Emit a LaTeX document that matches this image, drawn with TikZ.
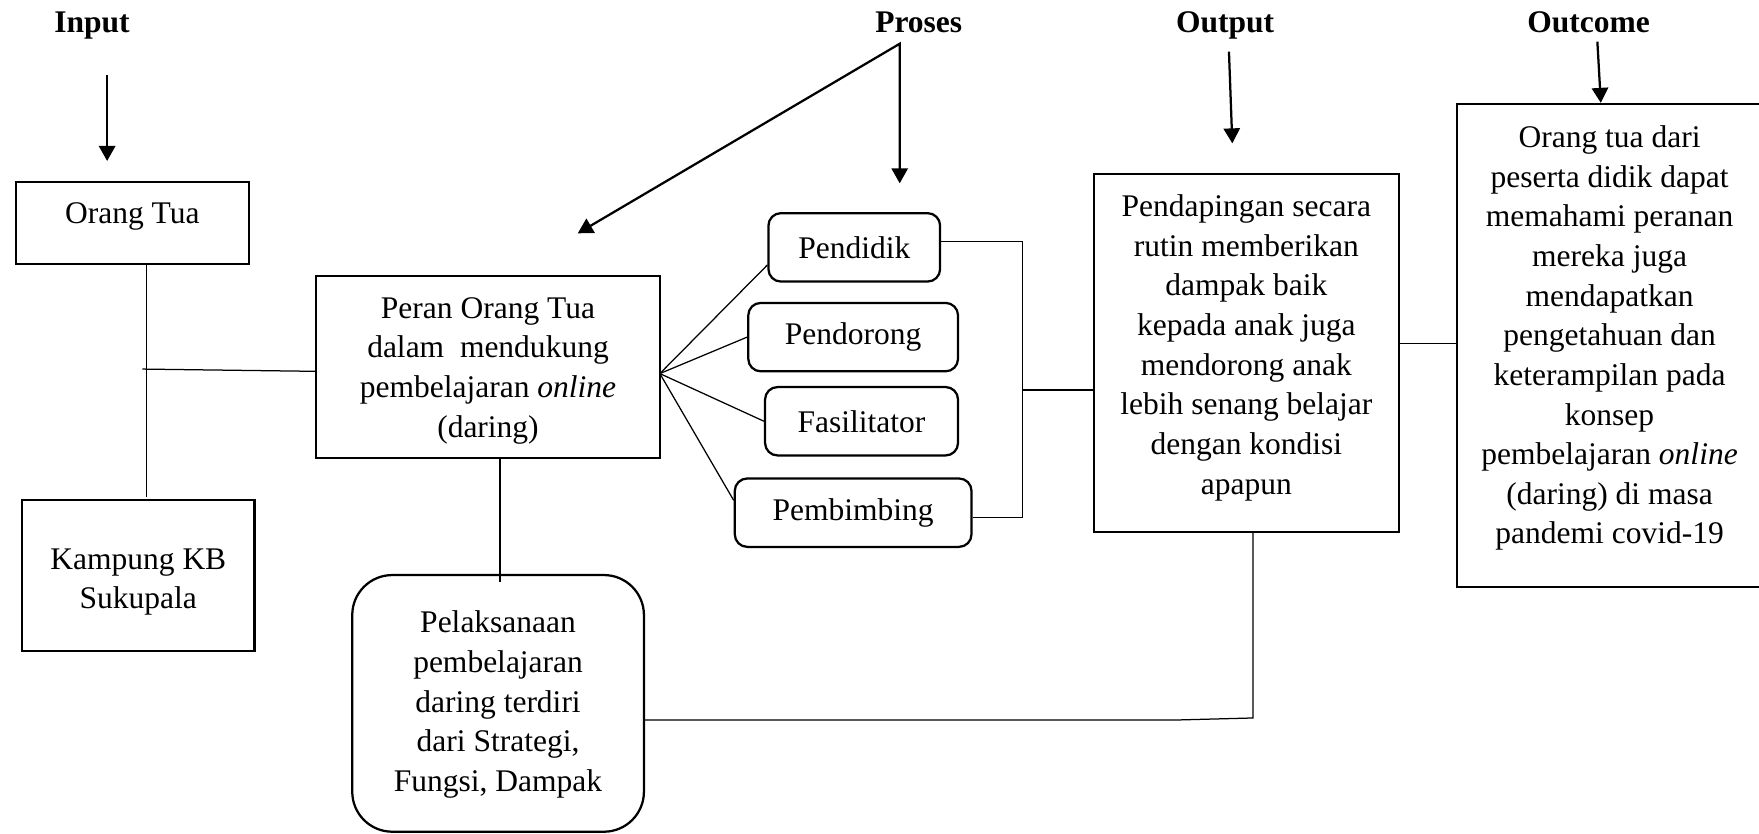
\documentclass[tikz,border=0pt]{standalone}
\usepackage{fontspec}
\setmainfont{Liberation Serif}
\usetikzlibrary{arrows.meta,calc}
\begin{document}
\begin{tikzpicture}[x=0.4487pt,y=-0.4487pt,
  every node/.style={font=\fontsize{12.6}{15.85}\selectfont},
  box/.style={draw, line width=0.9pt, inner sep=0pt},
  rbox/.style={box, rounded corners=5pt},
  txt/.style={align=center, inner sep=0pt, anchor=north},
  head/.style={font=\fontsize{12.6}{15.85}\selectfont\bfseries, inner sep=0pt, anchor=base},
  link/.style={line width=0.5pt},
  arr/.style={line width=0.9pt, -{Triangle[length=6pt,width=6.5pt]}}
]
\useasboundingbox (0,0) rectangle (1568,743);

% headings
\node[head] (hin) at (82,29) {Input};
\node[head] (hpr) at (819,29) {Proses};
\node[head] (hout) at (1092,29) {Output};
\node[head] (hoc) at (1416,29) {Outcome};

% boxes
\node[box, minimum width=93.06pt, minimum height=33.02pt] (ot) at (118,198.8) {};
\node[anchor=base, inner sep=0pt] (tot) at (118,199.3) {Orang Tua};

\node[box, minimum width=92.84pt, minimum height=60.13pt] (kb) at (123.35,513) {};
\node[txt] (tkb) at (123.3,482.2) {\strut Kampung KB\\Sukupala};

\node[box, minimum width=137.53pt, minimum height=72.69pt] (peran) at (434.95,327) {};
\node[txt] (tperan) at (435,258.5) {\strut Peran Orang Tua\\dalam\ \ mendukung\\pembelajaran \textit{online}\\(daring)};

\node[box, rounded corners=16pt, minimum width=116.66pt, minimum height=102.66pt] (pel) at (444,627) {};
\node[txt] (tpel) at (444,539) {\strut Pelaksanaan\\pembelajaran\\daring terdiri\\dari Strategi,\\Fungsi, Dampak};

\node[rbox, minimum width=68.65pt, minimum height=27.37pt] (pd) at (761.5,220.5) {Pendidik};
\node[rbox, minimum width=83.9pt, minimum height=27.37pt] (pn) at (760.5,300.5) {Pendorong};
\node[rbox, minimum width=77.18pt, minimum height=27.37pt] (fs) at (768,375.5) {Fasilitator};
\node[rbox, minimum width=94.68pt, minimum height=27.37pt] (pb) at (760.5,457) {Pembimbing};

\node[box, minimum width=121.91pt, minimum height=142.96pt] (out) at (1111.15,314.7) {};
\node[txt] (tout) at (1111,168) {\strut Pendapingan secara\\rutin memberikan\\dampak baik\\kepada anak juga\\mendorong anak\\lebih senang belajar\\dengan kondisi\\apapun};

\node[box, minimum width=130.57pt, minimum height=193.07pt] (oc) at (1444.5,307.85) {};
\node[txt] (toc) at (1434.8,106.4) {\strut Orang tua dari\\peserta didik dapat\\memahami peranan\\mereka juga\\mendapatkan\\pengetahuan dan\\keterampilan pada\\konsep\\pembelajaran \textit{online}\\(daring) di masa\\pandemi covid-19};

% arrows
\coordinate (ina1) at (95.5,67);
\coordinate (ina2) at (95.5,143.5);
\draw[arr] (ina1) -- (ina2);

\coordinate (apex) at (802,39);
\coordinate (pv) at (802,163.4);
\coordinate (pdg) at (515,208);
\draw[line width=0.9pt, line join=miter, {Triangle[length=6pt,width=6.5pt]}-{Triangle[length=6pt,width=6.5pt]}] (pdg) -- (apex) -- (pv);

\coordinate (oa1) at (1095.5,46);
\coordinate (oa2) at (1098.5,127.8);
\draw[arr] (oa1) -- (oa2);

\coordinate (oca1) at (1423.9,37.1);
\draw[arr] (oca1) -- (oc.north -| 1427,0);

% connectors
\coordinate (v1) at (130.5,443);
\draw[link] (ot.south -| v1) -- (v1);
\coordinate (h1) at (127,329);
\draw[link] (h1) -- (peran.west |- 0,331);

\coordinate (v2) at (445.7,518.7);
\draw[link] (peran.south -| v2) -- (v2);

\coordinate (fan) at (588.2,333);
\draw[link] (fan) -- ($(pd.west)!0.5!(pd.south west)$);
\draw[link] (fan) -- (pn.west);
\draw[link] (fan) -- (fs.west);
\draw[link] (fan) -- ($(pb.west)!0.35!(pb.north west)$);

\coordinate (bt) at (911.7,215.4);
\coordinate (bb) at (911.7,461.5);
\coordinate (bm) at (911.7,347.7);
\draw[link] (pd.east |- bt) -- (bt) -- (bb) -- (pb.east |- bb);
\draw[link] (bm) -- (out.west |- bm);

\coordinate (oo) at (1270,306);
\draw[link] (out.east |- oo) -- (oc.west |- oo);

\coordinate (ob) at (1117,640);
\draw[link] (out.south -| ob) -- (ob) -- (1049,641.8) -- (pel.east |- 0,641.8);
\end{tikzpicture}
\end{document}
